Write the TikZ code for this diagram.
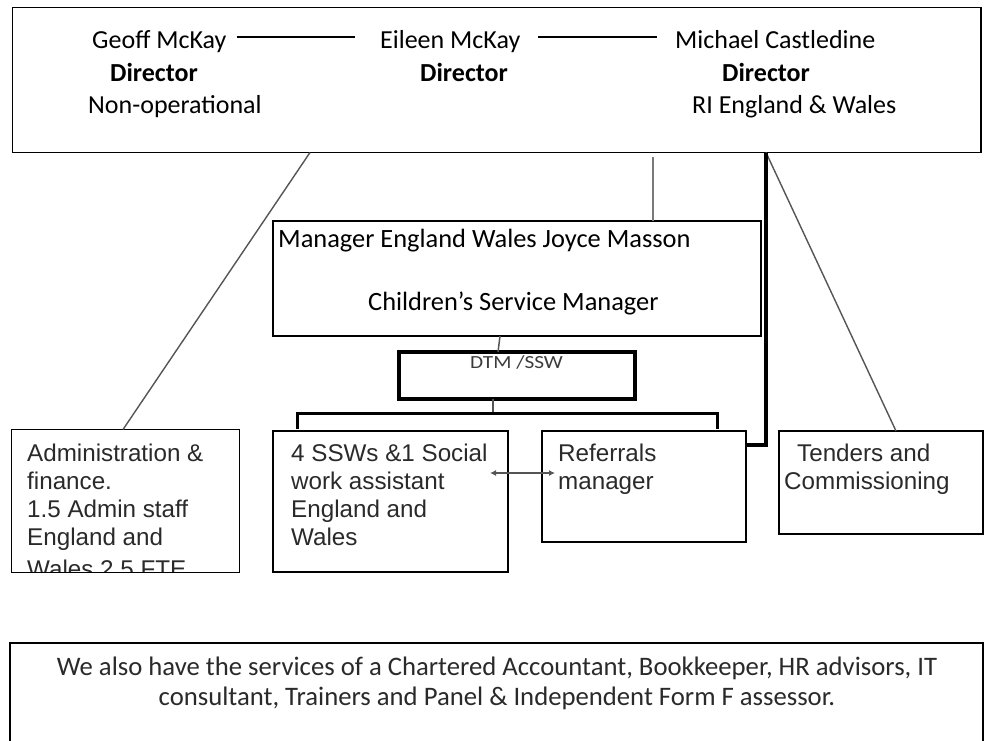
\documentclass[tikz,border=0pt]{standalone}
\usepackage{fontspec}
\setmainfont{Carlito}
\newfontfamily\arialf{Liberation Sans}
\usetikzlibrary{arrows.meta,calc}
\definecolor{softtext}{HTML}{2A2A2A}
\definecolor{connline}{HTML}{555555}
\definecolor{paleline}{HTML}{7A7A7A}
\definecolor{dtmtext}{HTML}{3C3C3C}
\begin{document}
\begin{tikzpicture}[x=1pt,y=-1pt,
  box/.style={draw=black,line width=1.4pt,inner sep=0pt,outer sep=0pt,anchor=north west},
  cal/.style={font=\fontsize{26}{31}\selectfont,inner sep=0pt,anchor=base west},
  calb/.style={font=\fontsize{26}{31}\selectfont\bfseries,inner sep=0pt,anchor=base west},
  ar/.style={font=\arialf\fontsize{24.2}{28}\selectfont,text=softtext,inner sep=0pt,anchor=base west},
  notetext/.style={font=\fontsize{26.7}{31}\selectfont,text=softtext,inner sep=0pt,anchor=base},
  nameline/.style={line width=2.6pt,draw=black},
  diag/.style={line width=1.4pt,draw=connline},
  heavy/.style={line width=3.2pt,draw=black},
  stub/.style={line width=1.5pt,draw=connline},
  twoway/.style={line width=2.4pt,draw=connline,{Latex[length=6pt,width=6pt]}-{Latex[length=6pt,width=6pt]}}
]
\useasboundingbox (0,0) rectangle (985,740);
\fill[white] (0,0) rectangle (985,740);

% boxes
\node[box,minimum width=968.5pt,minimum height=145pt] (top) at (12.5,7.5) {};
\node[box,minimum width=488pt,minimum height=115pt] (mgr) at (273,221) {};
\node[box,line width=4.5pt,minimum width=236pt,minimum height=47pt] (dtm) at (399,352) {};
\node[box,minimum width=235pt,minimum height=141pt] (ssw) at (273,431) {};
\node[box,minimum width=204pt,minimum height=111pt] (ref) at (542,431) {};
\node[box,minimum width=204pt,minimum height=103pt] (tend) at (779,431) {};
\node[box,minimum width=973pt,minimum height=100pt] (note) at (10,643) {};

% directors
\node[cal] (geoff) at (92,48) {Geoff McKay};
\node[cal] (eileen) at (380,48) {Eileen McKay};
\node[cal] (michael) at (675,48) {Michael Castledine};
\node[calb] (dir1) at (110,81) {Director};
\node[calb] (dir2) at (420,81) {Director};
\node[calb] (dir3) at (722,81) {Director};
\node[cal] (nonop) at (88,113) {Non-operational};
\node[cal] (ri) at (692,113) {RI England \& Wales};

\draw[nameline] ([xshift=10pt,yshift=11pt]geoff.base east) -- ([xshift=-25pt,yshift=11pt]eileen.base west);
\draw[nameline] ([xshift=18pt,yshift=11pt]eileen.base east) -- ([xshift=-18pt,yshift=11pt]michael.base west);

% manager
\node[cal,font=\fontsize{26.4}{31}\selectfont] (mgr1) at (278,247) {Manager England Wales Joyce Masson};
\node[cal,font=\fontsize{26.4}{31}\selectfont] (mgr2) at (368,310) {Children’s Service Manager};

% DTM
\node[font=\fontsize{18.5}{20}\selectfont,text=dtmtext,inner sep=0pt,anchor=base] (dtmt) at (516.5,368) {\scalebox{1.15}[1]{DTM /SSW}};

% admin text (clipped by its box), then its box on top
\coordinate (adminnw) at (11.5,429.5);
\coordinate (adminse) at (239.5,572.5);
\begin{scope}
\clip (adminnw) rectangle (adminse);
\node[ar] (ad1) at (27,461) {Administration \&};
\node[ar] (ad2) at (27,489) {finance.};
\node[ar] (ad3) at (27,517) {1.5 Admin staff};
\node[ar] (ad4) at (27,545) {England and};
\node[ar] (ad5) at (27,577) {Wales 2.5 FTE};
\end{scope}
\node[box,minimum width=228pt,minimum height=143pt] (admin) at (adminnw) {};

\node[ar] (sw1) at (291,461) {4 SSWs \&1 Social};
\node[ar] (sw2) at (291,489) {work assistant};
\node[ar] (sw3) at (291,517) {England and};
\node[ar] (sw4) at (291,545) {Wales};

\node[ar] (rf1) at (558,461) {Referrals};
\node[ar] (rf2) at (558,489) {manager};

\node[ar] (tn1) at (797,461) {Tenders and};
\node[ar] (tn2) at (784,489) {Commissioning};

% note
\node[notetext] (note1) at (497,675) {We also have the services of a Chartered Accountant, Bookkeeper, HR advisors, IT};
\node[notetext] (note2) at (497,705) {consultant, Trainers and Panel \& Independent Form F assessor.};

% connectors
\coordinate (brkmid) at (493,413);
\draw[diag] (310,0 |- top.south) -- (123,0 |- admin.north);
\draw[diag,draw=paleline,shorten <=4pt] (653,0 |- top.south) -- (653,0 |- mgr.north);
\draw[diag] (766,0 |- top.south) -- (896,0 |- tend.north);
\draw[heavy] (766,0 |- top.south) |- (ref.east |- 0,445);
\draw[stub] (500,0 |- mgr.south) -- (498,0 |- dtm.north);
\draw[stub] (dtm.south -| brkmid) -- (brkmid);
\draw[heavy,line width=3pt] ([yshift=2pt]297,0 |- ssw.north) -- (297,0 |- brkmid) -- (717,0 |- brkmid) -- ([yshift=2pt]717,0 |- ref.north);
\draw[twoway] ($(ssw.north east)+(-18,42)$) -- ($(ref.north west)+(13,42)$);
\end{tikzpicture}
\end{document}
